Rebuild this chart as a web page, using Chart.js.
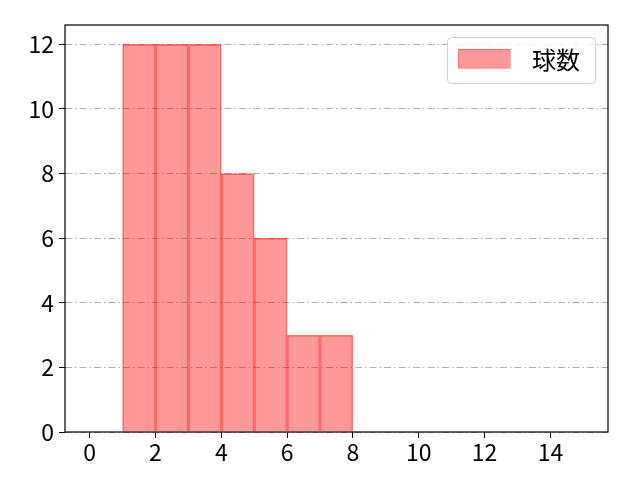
<!DOCTYPE html>
<html>
<head>
<meta charset="utf-8">
<script src="https://cdn.jsdelivr.net/npm/chart.js@4/dist/chart.umd.min.js"></script>
<style>
  html, body { margin: 0; padding: 0; background: #fff; }
  #wrap { width: 640px; height: 480px; }
</style>
</head>
<body>
<div id="wrap"><canvas id="chart" width="640" height="480"></canvas></div>
<script>
// histogram bins (left edges) and counts
const binStarts = [1, 2, 3, 4, 5, 6, 7];
const counts = [12, 12, 12, 8, 6, 3, 3];
const xTicks = [0, 2, 4, 6, 8, 10, 12, 14];
const yTicks = [0, 2, 4, 6, 8, 10, 12];
const seriesName = '球数';

const FONT = '"Noto Sans CJK JP", "DejaVu Sans", sans-serif';

const frame = {
  id: 'frame',
  afterDraw(chart) {
    const a = chart.chartArea;
    const c = chart.ctx;
    c.save();
    c.strokeStyle = '#000';
    c.lineWidth = 1.2;
    c.setLineDash([]);
    c.strokeRect(a.left, a.top, a.right - a.left, a.bottom - a.top);

    // legend box
    const bx = 447, by = 37, bw = 148, bh = 46;
    c.fillStyle = 'rgba(255,255,255,0.8)';
    c.strokeStyle = '#d0d0d0';
    c.lineWidth = 1;
    c.beginPath();
    c.roundRect(bx + 0.5, by + 0.5, bw, bh, 4);
    c.fill();
    c.stroke();
    c.fillStyle = 'rgba(255,0,0,0.4)';
    c.fillRect(458, 49, 52, 19);
    c.strokeStyle = 'rgba(255,0,0,0.3)';
    c.strokeRect(458.5, 49.5, 52, 19);
    c.fillStyle = '#000';
    c.font = '24px ' + FONT;
    c.textBaseline = 'middle';
    c.fillText(seriesName, 532, 60);
    c.restore();
  }
};

const ctx = document.getElementById('chart').getContext('2d');
new Chart(ctx, {
  type: 'bar',
  data: {
    datasets: [{
      label: seriesName,
      data: binStarts.map((b, i) => ({ x: b + 0.5, y: counts[i] })),
      backgroundColor: 'rgba(255,0,0,0.4)',
      borderColor: 'rgba(255,0,0,0.5)',
      borderWidth: 1,
      barPercentage: 1,
      categoryPercentage: 1
    }]
  },
  options: {
    responsive: false,
    animation: false,
    layout: { padding: { left: 0, right: 32, top: 25, bottom: 0 } },
    plugins: { legend: { display: false }, tooltip: { enabled: false } },
    scales: {
      x: {
        type: 'linear',
        offset: false,
        min: -0.75,
        max: 15.75,
        afterBuildTicks: s => { s.ticks = xTicks.map(v => ({ value: v })); },
        afterFit: s => { s.height = 48; },
        grid: { offset: false, drawOnChartArea: false, tickLength: 6, tickColor: '#000' },
        border: { display: false },
        ticks: { color: '#000', font: { family: FONT, size: 23 }, padding: 0, maxRotation: 0 }
      },
      y: {
        min: 0,
        max: 12.6,
        z: 1,
        afterBuildTicks: s => { s.ticks = yTicks.map(v => ({ value: v })); },
        afterFit: s => { s.width = 65; },
        grid: {
          color: '#b0b0b0',
          tickColor: '#000',
          tickLength: 6,
          tickBorderDash: [1, 0]
        },
        border: { display: false, dash: [7, 3, 1.5, 3] },
        ticks: { color: '#000', font: { family: FONT, size: 23 }, padding: 5 }
      }
    }
  },
  plugins: [frame]
});
</script>
</body>
</html>
